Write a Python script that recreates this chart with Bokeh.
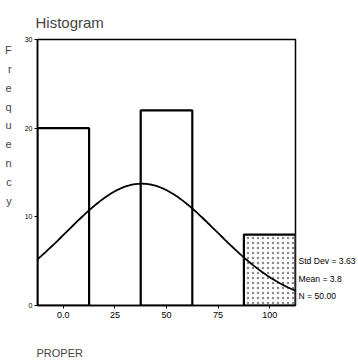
import numpy as np
from bokeh.plotting import figure
from bokeh.models import (Range1d, FixedTicker, ColumnDataSource, Title, LinearAxis)
from bokeh.embed import file_html
from bokeh.resources import INLINE

# data
bin_centers = [0, 50, 100]
counts = [20, 22, 8]
bin_width = 25
x_ticks = [0, 25, 50, 75, 100]
x_tick_labels = ["0.0", "25", "50", "75", "100"]
y_ticks = [0, 10, 20, 30]
curve_mean = 38.0
curve_sd = 36.3
n_total = 50
stats_text = ["Std Dev = 3.63", "Mean = 3.8", "N = 50.00"]
title_text = "Histogram"
x_label = "PROPER"
y_label = "Frequency"

FONT = "Liberation Sans"

W, H = 358, 360
FRAME_H = 266
p = figure(width=W, height=H, output_backend="svg", toolbar_location=None,
           x_range=Range1d(-12.5, 112.5), y_range=Range1d(0, 30),
           min_border_left=37, min_border_top=39, min_border_right=63, min_border_bottom=55)
p.xgrid.visible = False
p.ygrid.visible = False
p.outline_line_color = "black"
p.outline_line_width = 1.5
p.background_fill_color = "white"
p.border_fill_color = "white"

src = ColumnDataSource(dict(
    left=[c - bin_width / 2 for c in bin_centers],
    right=[c + bin_width / 2 for c in bin_centers],
    top=counts,
    bottom=[0] * len(counts),
    hatch=[" ", " ", "."],
))
p.quad(left="left", right="right", top="top", bottom="bottom", source=src,
       fill_color="white", line_color="black", line_width=2.2,
       hatch_pattern="hatch", hatch_color="black", hatch_alpha=0.45, hatch_scale=5, hatch_weight=1)

xs = np.linspace(-12.5, 112.5, 200)
ys = n_total * bin_width / (curve_sd * np.sqrt(2 * np.pi)) * np.exp(-0.5 * ((xs - curve_mean) / curve_sd) ** 2)
p.line(xs, ys, line_color="black", line_width=1.8)

for ax in (p.xaxis[0], p.yaxis[0]):
    ax.axis_line_color = "black"
    ax.axis_line_width = 1.5
    ax.major_tick_in = 0
    ax.major_tick_out = 3
    ax.minor_tick_line_color = None
    ax.major_label_text_font = FONT
    ax.major_label_text_color = "black"

p.xaxis.ticker = FixedTicker(ticks=x_ticks)
p.xaxis.major_label_overrides = {t: l for t, l in zip(x_ticks, x_tick_labels)}
p.xaxis.major_label_text_font_size = "9px"
p.xaxis.major_label_standoff = 3
p.yaxis.ticker = FixedTicker(ticks=y_ticks)
p.yaxis.major_label_text_font_size = "7px"
p.yaxis.major_label_standoff = 2

# vertical stacked y label (trailing blank lines lift it toward the top)
p.yaxis.axis_label = "\n".join(list(y_label)) + "\n \n \n \n \n "
p.yaxis.axis_label_orientation = "horizontal"
p.yaxis.axis_label_text_font = FONT
p.yaxis.axis_label_text_font_size = "11px"
p.yaxis.axis_label_text_font_style = "normal"
p.yaxis.axis_label_text_line_height = 1.57
p.yaxis.axis_label_standoff = 10

# title
p.title.text = title_text
p.title.align = "left"
p.title.offset = -2
p.title.text_font = FONT
p.title.text_font_size = "15px"
p.title.text_font_style = "normal"
p.title.standoff = 18

# x label as a left-aligned title below the axis (leading blank lines push it down)
p.add_layout(Title(text=" \n \n" + x_label, align="left", offset=-1, standoff=0,
                   vertical_align="bottom", text_line_height=1.0,
                   text_font=FONT, text_font_size="11px", text_font_style="normal"), "below")

# stats block to the right of the frame, as labels of a bare right axis
stat_pos_px = [45, 27, 10]  # vertical positions (px above frame bottom)
p.extra_y_ranges = {"stats": Range1d(0, FRAME_H)}
stats_axis = LinearAxis(y_range_name="stats", ticker=FixedTicker(ticks=stat_pos_px),
                        major_label_overrides={t: s for t, s in zip(stat_pos_px, stats_text)},
                        axis_line_color=None, major_tick_line_color=None, minor_tick_line_color=None,
                        major_tick_out=0, major_tick_in=0, minor_tick_out=0, minor_tick_in=0,
                        major_label_standoff=3, major_label_text_font=FONT,
                        major_label_text_font_size="8.6px", major_label_text_color="black")
p.add_layout(stats_axis, "right")

open("out.html", "w").write(file_html(p, INLINE))
